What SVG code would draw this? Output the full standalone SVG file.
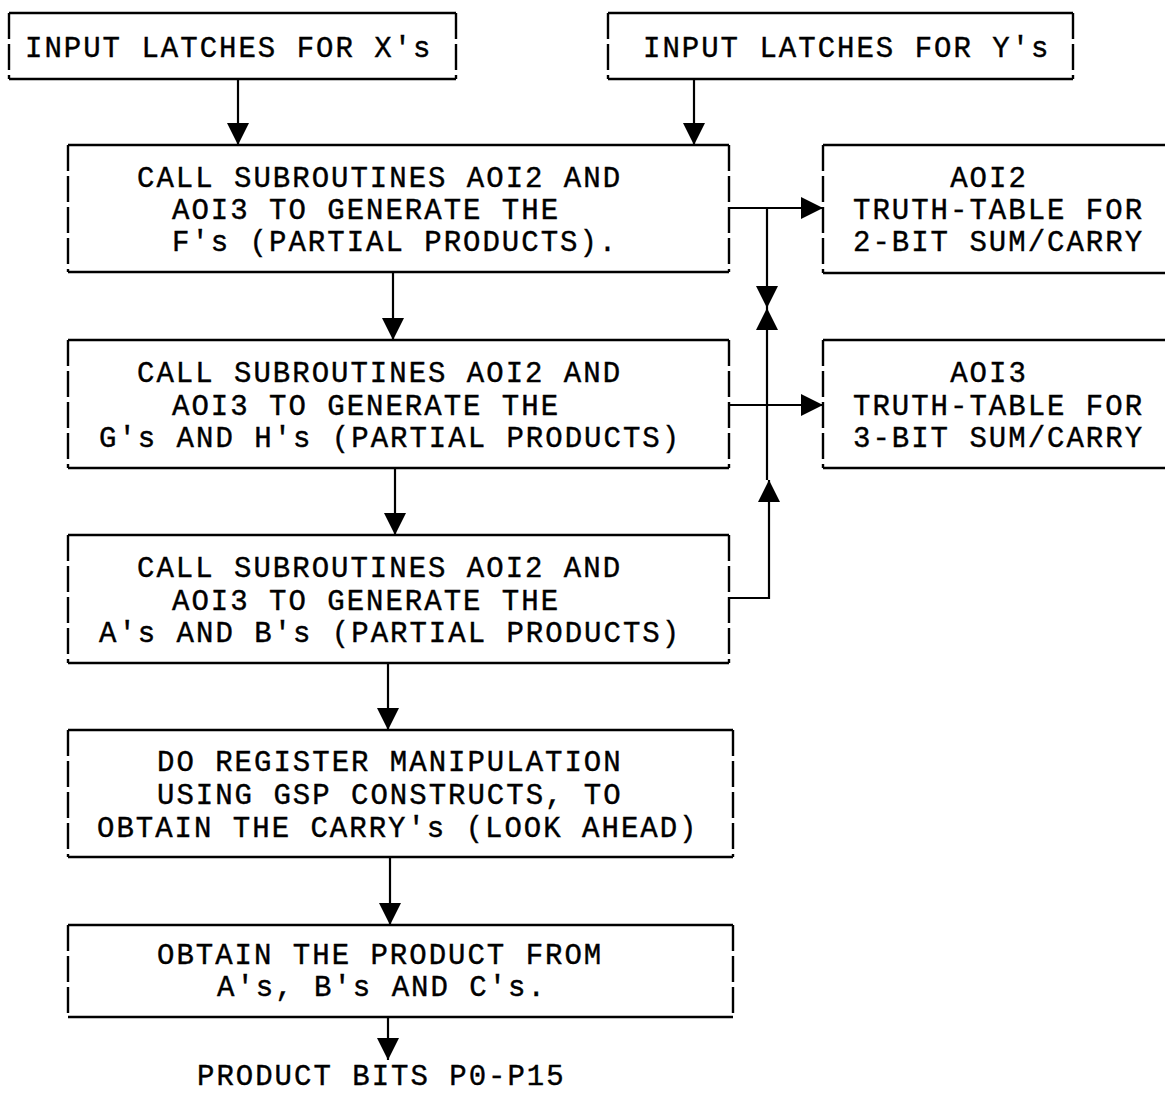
<svg xmlns="http://www.w3.org/2000/svg" width="1165" height="1093" viewBox="0 0 1165 1093">
  <style>
    .bg { fill: #ffffff; }
    .edge-h { fill: none; stroke: #000; stroke-width: 2.6; }
    .edge-v { fill: none; stroke: #000; stroke-width: 2.4; stroke-dasharray: 26 5; }
    .wire { fill: none; stroke: #000; stroke-width: 2.2; }
    .lbl { font-family: "Liberation Mono", "Courier New", monospace; font-size: 29px; letter-spacing: 2px; fill: #000; stroke: #000; stroke-width: 0.4; }
    .mid { text-anchor: middle; }
  </style>
  <defs>
    <marker id="tri" markerUnits="userSpaceOnUse" markerWidth="22" markerHeight="22" refX="22" refY="11" orient="auto">
      <path d="M0,0 L22,11 L0,22 Z" fill="#000"/>
    </marker>
  </defs>

  <rect class="bg" x="0" y="0" width="1165" height="1093"/>

  <!-- input latches for X -->
  <g id="latch-x">
    <path class="edge-h" d="M9,13 H456 M9,79 H456"/>
    <path class="edge-v" d="M9,13 V79 M456,13 V79"/>
    <text class="lbl" x="25" y="57">INPUT LATCHES FOR X's</text>
  </g>

  <!-- input latches for Y -->
  <g id="latch-y">
    <path class="edge-h" d="M608,13 H1073 M608,79 H1073"/>
    <path class="edge-v" d="M608,13 V79 M1073,13 V79"/>
    <text class="lbl" x="643" y="57">INPUT LATCHES FOR Y's</text>
  </g>

  <!-- F partial products -->
  <g id="step-f">
    <path class="edge-h" d="M68,145 H729 M68,272 H729"/>
    <path class="edge-v" d="M68,145 V272 M729,145 V272"/>
    <text class="lbl" x="137" y="187">CALL SUBROUTINES AOI2 AND</text>
    <text class="lbl" x="172" y="219">AOI3 TO GENERATE THE</text>
    <text class="lbl" x="172" y="251">F's (PARTIAL PRODUCTS).</text>
  </g>

  <!-- AOI2 truth table -->
  <g id="aoi2">
    <path class="edge-h" d="M823,145 H1165 M823,273 H1165"/>
    <path class="edge-v" d="M823,145 V273"/>
    <text class="lbl mid" x="989" y="187">AOI2</text>
    <text class="lbl" x="853" y="219">TRUTH-TABLE FOR</text>
    <text class="lbl" x="853" y="251">2-BIT SUM/CARRY</text>
  </g>

  <!-- G and H partial products -->
  <g id="step-gh">
    <path class="edge-h" d="M68,340 H729 M68,468 H729"/>
    <path class="edge-v" d="M68,340 V468 M729,340 V468"/>
    <text class="lbl" x="137" y="382">CALL SUBROUTINES AOI2 AND</text>
    <text class="lbl" x="172" y="415">AOI3 TO GENERATE THE</text>
    <text class="lbl" x="99" y="447">G's AND H's (PARTIAL PRODUCTS)</text>
  </g>

  <!-- AOI3 truth table -->
  <g id="aoi3">
    <path class="edge-h" d="M823,340 H1165 M823,468 H1165"/>
    <path class="edge-v" d="M823,340 V468"/>
    <text class="lbl mid" x="989" y="382">AOI3</text>
    <text class="lbl" x="853" y="415">TRUTH-TABLE FOR</text>
    <text class="lbl" x="853" y="447">3-BIT SUM/CARRY</text>
  </g>

  <!-- A and B partial products -->
  <g id="step-ab">
    <path class="edge-h" d="M68,535 H729 M68,663 H729"/>
    <path class="edge-v" d="M68,535 V663 M729,535 V663"/>
    <text class="lbl" x="137" y="577">CALL SUBROUTINES AOI2 AND</text>
    <text class="lbl" x="172" y="610">AOI3 TO GENERATE THE</text>
    <text class="lbl" x="99" y="642">A's AND B's (PARTIAL PRODUCTS)</text>
  </g>

  <!-- carry look-ahead -->
  <g id="step-carry">
    <path class="edge-h" d="M68,730 H733 M68,857 H733"/>
    <path class="edge-v" d="M68,730 V857 M733,730 V857"/>
    <text class="lbl" x="157" y="771">DO REGISTER MANIPULATION</text>
    <text class="lbl" x="157" y="804">USING GSP CONSTRUCTS, TO</text>
    <text class="lbl" x="97" y="837">OBTAIN THE CARRY's (LOOK AHEAD)</text>
  </g>

  <!-- final product -->
  <g id="step-product">
    <path class="edge-h" d="M68,925 H733 M68,1017 H733"/>
    <path class="edge-v" d="M68,925 V1017 M733,925 V1017"/>
    <text class="lbl" x="157" y="964">OBTAIN THE PRODUCT FROM</text>
    <text class="lbl" x="217" y="996">A's, B's AND C's.</text>
  </g>

  <!-- output label -->
  <g id="output">
    <text class="lbl" x="197" y="1085">PRODUCT BITS P0-P15</text>
  </g>

  <!-- connectors -->
  <g id="connectors">
    <path class="wire" d="M238,79 V145" marker-end="url(#tri)"/>
    <path class="wire" d="M694,79 V145" marker-end="url(#tri)"/>
    <path class="wire" d="M393,272 V340" marker-end="url(#tri)"/>
    <path class="wire" d="M395,468 V535" marker-end="url(#tri)"/>
    <path class="wire" d="M388,663 V730" marker-end="url(#tri)"/>
    <path class="wire" d="M390,857 V925" marker-end="url(#tri)"/>
    <path class="wire" d="M388,1017 V1060" marker-end="url(#tri)"/>
    <path class="wire" d="M729,208 H823" marker-end="url(#tri)"/>
    <path class="wire" d="M729,405 H823" marker-end="url(#tri)"/>
    <path class="wire" d="M767,208 V308" marker-end="url(#tri)"/>
    <path class="wire" d="M767,480 V308" marker-end="url(#tri)"/>
    <path class="wire" d="M729,598 H769 V480" marker-end="url(#tri)"/>
  </g>
</svg>
